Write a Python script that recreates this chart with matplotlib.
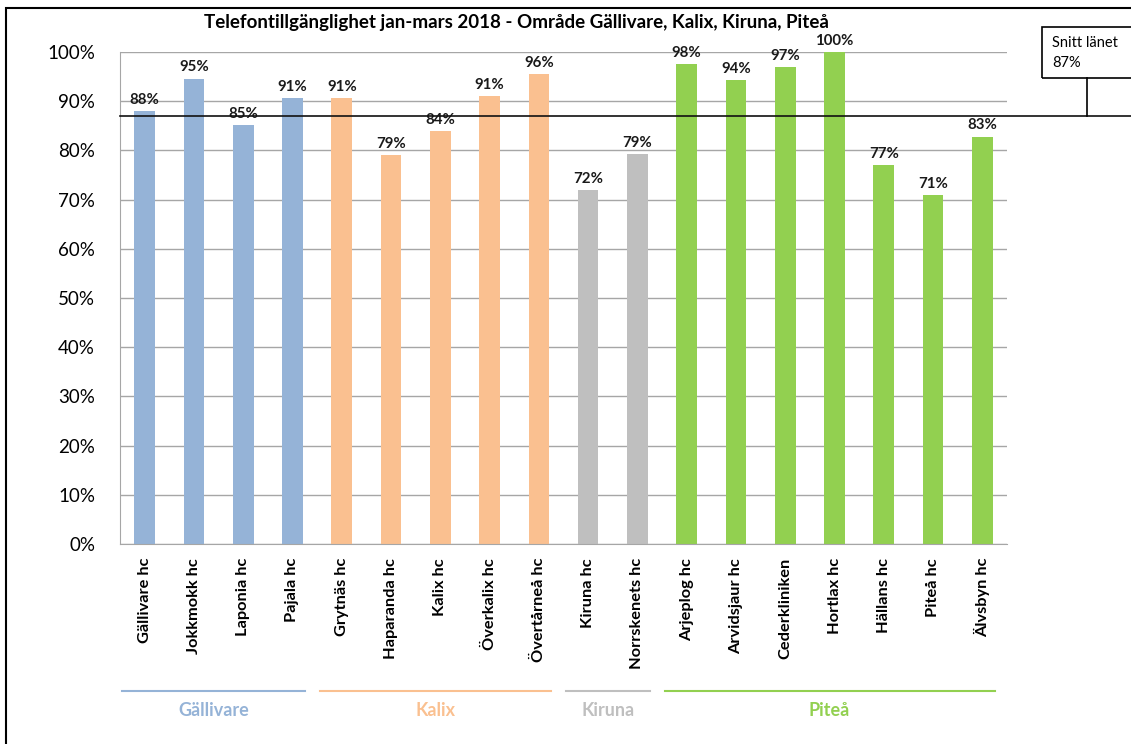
import numpy as np
import matplotlib.pyplot as plt
import matplotlib.transforms as mtransforms
from matplotlib.patches import Rectangle

categories = ["Gällivare hc", "Jokkmokk hc", "Laponia hc", "Pajala hc",
              "Grytnäs hc", "Haparanda hc", "Kalix hc", "Överkalix hc", "Övertårneå hc",
              "Kiruna hc", "Norrskenets hc",
              "Arjeplog hc", "Arvidsjaur hc", "Cederkliniken", "Hortlax hc",
              "Hällans hc", "Piteå hc", "Älvsbyn hc"]
values = [0.88, 0.946, 0.852, 0.906,
          0.906, 0.79, 0.84, 0.91, 0.955,
          0.72, 0.793,
          0.975, 0.943, 0.97, 1.0,
          0.77, 0.709, 0.828]
groups = ["Gällivare", "Kalix", "Kiruna", "Piteå"]
group_sizes = [4, 5, 2, 7]
group_colors = ["#95B3D7", "#FAC090", "#BFBFBF", "#92D050"]
average = 0.87

W, H = 1131, 744
plt.rcParams['font.family'] = ['Lato', 'DejaVu Sans']
fig = plt.figure(figsize=(W / 100, H / 100), dpi=100)
ax = fig.add_axes([120 / W, 1 - 544 / H, 887 / W, 492 / H])

bar_colors = []
for c, n in zip(group_colors, group_sizes):
    bar_colors += [c] * n

x = np.arange(len(categories))
ax.bar(x, values, width=0.42, color=bar_colors, zorder=2)
for xi, v in zip(x, values):
    ax.annotate(f"{round(v * 100)}%", (xi, v), xytext=(0, 3), textcoords="offset points",
                ha="center", va="bottom", fontsize=10.8, fontweight="bold", color="#1a1a1a")

ax.set_xlim(-0.5, len(categories) - 0.5)
ax.set_ylim(0, 1.0)
ax.set_yticks(np.arange(0, 1.01, 0.1))
ax.set_yticklabels([f"{int(round(t * 100))}%" for t in np.arange(0, 1.01, 0.1)], fontsize=13.5)
ax.set_xticks(x)
ax.set_xticklabels(categories, rotation=90, fontsize=11.8, fontweight="bold")
ax.tick_params(axis="x", length=0, pad=10)
ax.tick_params(axis="y", length=0, pad=18)
ax.grid(axis="y", color="#A6A6A6", linewidth=1, zorder=0)
for s in ["top", "right"]:
    ax.spines[s].set_visible(False)
for s in ["left", "bottom"]:
    ax.spines[s].set_color("#A6A6A6")

# average line, runs to the figure's right edge
ax.axhline(average, xmin=0, xmax=(W - 120) / 887, color="#111111", linewidth=1.2,
           clip_on=False, zorder=4)

ax.set_title("Telefontillgänglighet jan-mars 2018 - Område Gällivare, Kalix, Kiruna, Piteå",
             fontsize=13.5, fontweight="bold", x=0.447, y=1.0, pad=17)

# callout
fig.patches.append(Rectangle((1042 / W, 1 - 78 / H), 120 / W, 51 / H, transform=fig.transFigure,
                             fill=False, edgecolor="black", linewidth=1.2, clip_on=False))
fig.add_artist(plt.Line2D([1087 / W, 1087 / W], [1 - 78 / H, 1 - 116 / H],
                          transform=fig.transFigure, color="black", linewidth=1.2))
fig.text(1052 / W, 1 - 53 / H, f"Snitt länet\n{round(average * 100)}%", fontsize=10.5,
         va="center", ha="left", linespacing=1.5)

# outer frame
fig.patches.append(Rectangle((6 / W, -0.05), 1.2, (H - 8) / H + 0.05, transform=fig.transFigure,
                             fill=False, edgecolor="black", linewidth=1.5, clip_on=False))

# group brackets below the category labels
trans = mtransforms.blended_transform_factory(ax.transData, fig.transFigure)
start = 0
for g, n, c in zip(groups, group_sizes, group_colors):
    x0, x1 = start - 0.45, start + n - 0.75
    ax.plot([x0, x1], [1 - 691 / H, 1 - 691 / H], transform=trans, color=c, linewidth=1.5,
            clip_on=False)
    ax.text((x0 + x1) / 2, 1 - 711 / H, g, transform=trans, color=c, fontsize=13,
            fontweight="bold", ha="center", va="center")
    start += n

fig.savefig("out.png", dpi=100)
